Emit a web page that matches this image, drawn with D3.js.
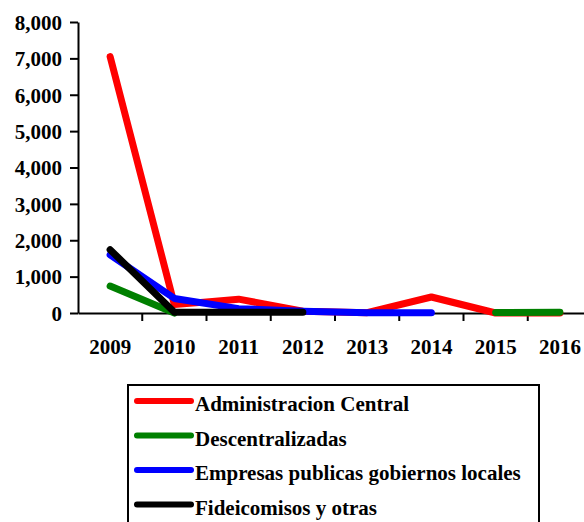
<!DOCTYPE html>
<html>
<head>
<meta charset="utf-8">
<script src="https://cdn.jsdelivr.net/npm/d3@7"></script>
<style>
  body { margin: 0; background: #fff; }
  svg { display: block; }
  text { font-family: "Liberation Serif", "Times New Roman", serif; font-weight: bold; fill: #000; }
</style>
</head>
<body>
<div id="chart"></div>
<script>
// chart data
const years = ["2009", "2010", "2011", "2012", "2013", "2014", "2015", "2016"];
const yTicks = [0, 1000, 2000, 3000, 4000, 5000, 6000, 7000, 8000];

const seriesNames = ["Administracion Central", "Descentralizadas", "Empresas publicas gobiernos locales", "Fideicomisos y otras"];
const seriesColors = ["#ff0000", "#008000", "#0000ff", "#000000"];

const adminCentral = [7050, 230, 380, 50, 10, 440, 0, 0];
const descentralizadas = [740, 0, null, null, null, null, 15, 20];
const empresasPublicas = [1600, 400, 120, 50, 10, 10, null, null];
const fideicomisos = [1740, 20, 20, 20, null, null, null, null];

const allSeries = [adminCentral, descentralizadas, empresasPublicas, fideicomisos];

const width = 584, height = 522;
const svg = d3.select("#chart").append("svg").attr("width", width).attr("height", height);

// --- scales ---
const x = d3.scaleBand().domain(years).range([78, 592]);
const y = d3.scaleLinear().domain([0, 8000]).range([313, 22]);

// --- axes ---
const yAxis = svg.append("g").attr("transform", "translate(78,0)")
  .call(d3.axisLeft(y).tickValues(yTicks).tickFormat(d3.format(",")).tickSize(8).tickSizeOuter(0));
const xAxis = svg.append("g").attr("transform", "translate(0,313)")
  .call(d3.axisBottom(x).tickSize(0).tickSizeOuter(0));

[yAxis, xAxis].forEach(g => {
  g.select(".domain").attr("stroke", "#000").attr("stroke-width", 2);
  g.selectAll("text").style("font-size", "21px").style("font-family", "'Liberation Serif', serif").style("font-weight", "bold").attr("fill", "#000");
});
yAxis.selectAll(".tick line").attr("stroke-width", 2);
yAxis.selectAll(".tick text").attr("x", -16).attr("dy", "0.35em");
xAxis.selectAll(".tick text").attr("y", 26).attr("dy", "0.7em");

// x tick marks sit on the band boundaries
svg.append("g").selectAll("line")
  .data(years.slice(1))
  .join("line")
  .attr("x1", d => x(d)).attr("x2", d => x(d))
  .attr("y1", 313).attr("y2", 321)
  .attr("stroke", "#000").attr("stroke-width", 2);

// --- lines ---
const line = d3.line()
  .defined(d => d.v !== null)
  .x(d => x(d.year) + x.bandwidth() / 2)
  .y(d => y(d.v));

allSeries.forEach((vals, i) => {
  const pts = years.map((yr, j) => ({ year: yr, v: vals[j] }));
  svg.append("path")
    .attr("d", line(pts))
    .attr("fill", "none")
    .attr("stroke", seriesColors[i])
    .attr("stroke-width", 7)
    .attr("stroke-linecap", "round")
    .attr("stroke-linejoin", "round");
});

// --- legend ---
const legend = svg.append("g");
legend.append("rect")
  .attr("x", 128).attr("y", 385).attr("width", 411).attr("height", 160)
  .attr("fill", "#fff").attr("stroke", "#000").attr("stroke-width", 2);

seriesNames.forEach((name, i) => {
  const ly = 401 + i * 34.5;
  legend.append("line")
    .attr("x1", 137).attr("x2", 191).attr("y1", ly).attr("y2", ly)
    .attr("stroke", seriesColors[i]).attr("stroke-width", 6).attr("stroke-linecap", "round");
  legend.append("text")
    .attr("x", 195).attr("y", ly + 10)
    .style("font-size", "21px")
    .text(name);
});
</script>
</body>
</html>
